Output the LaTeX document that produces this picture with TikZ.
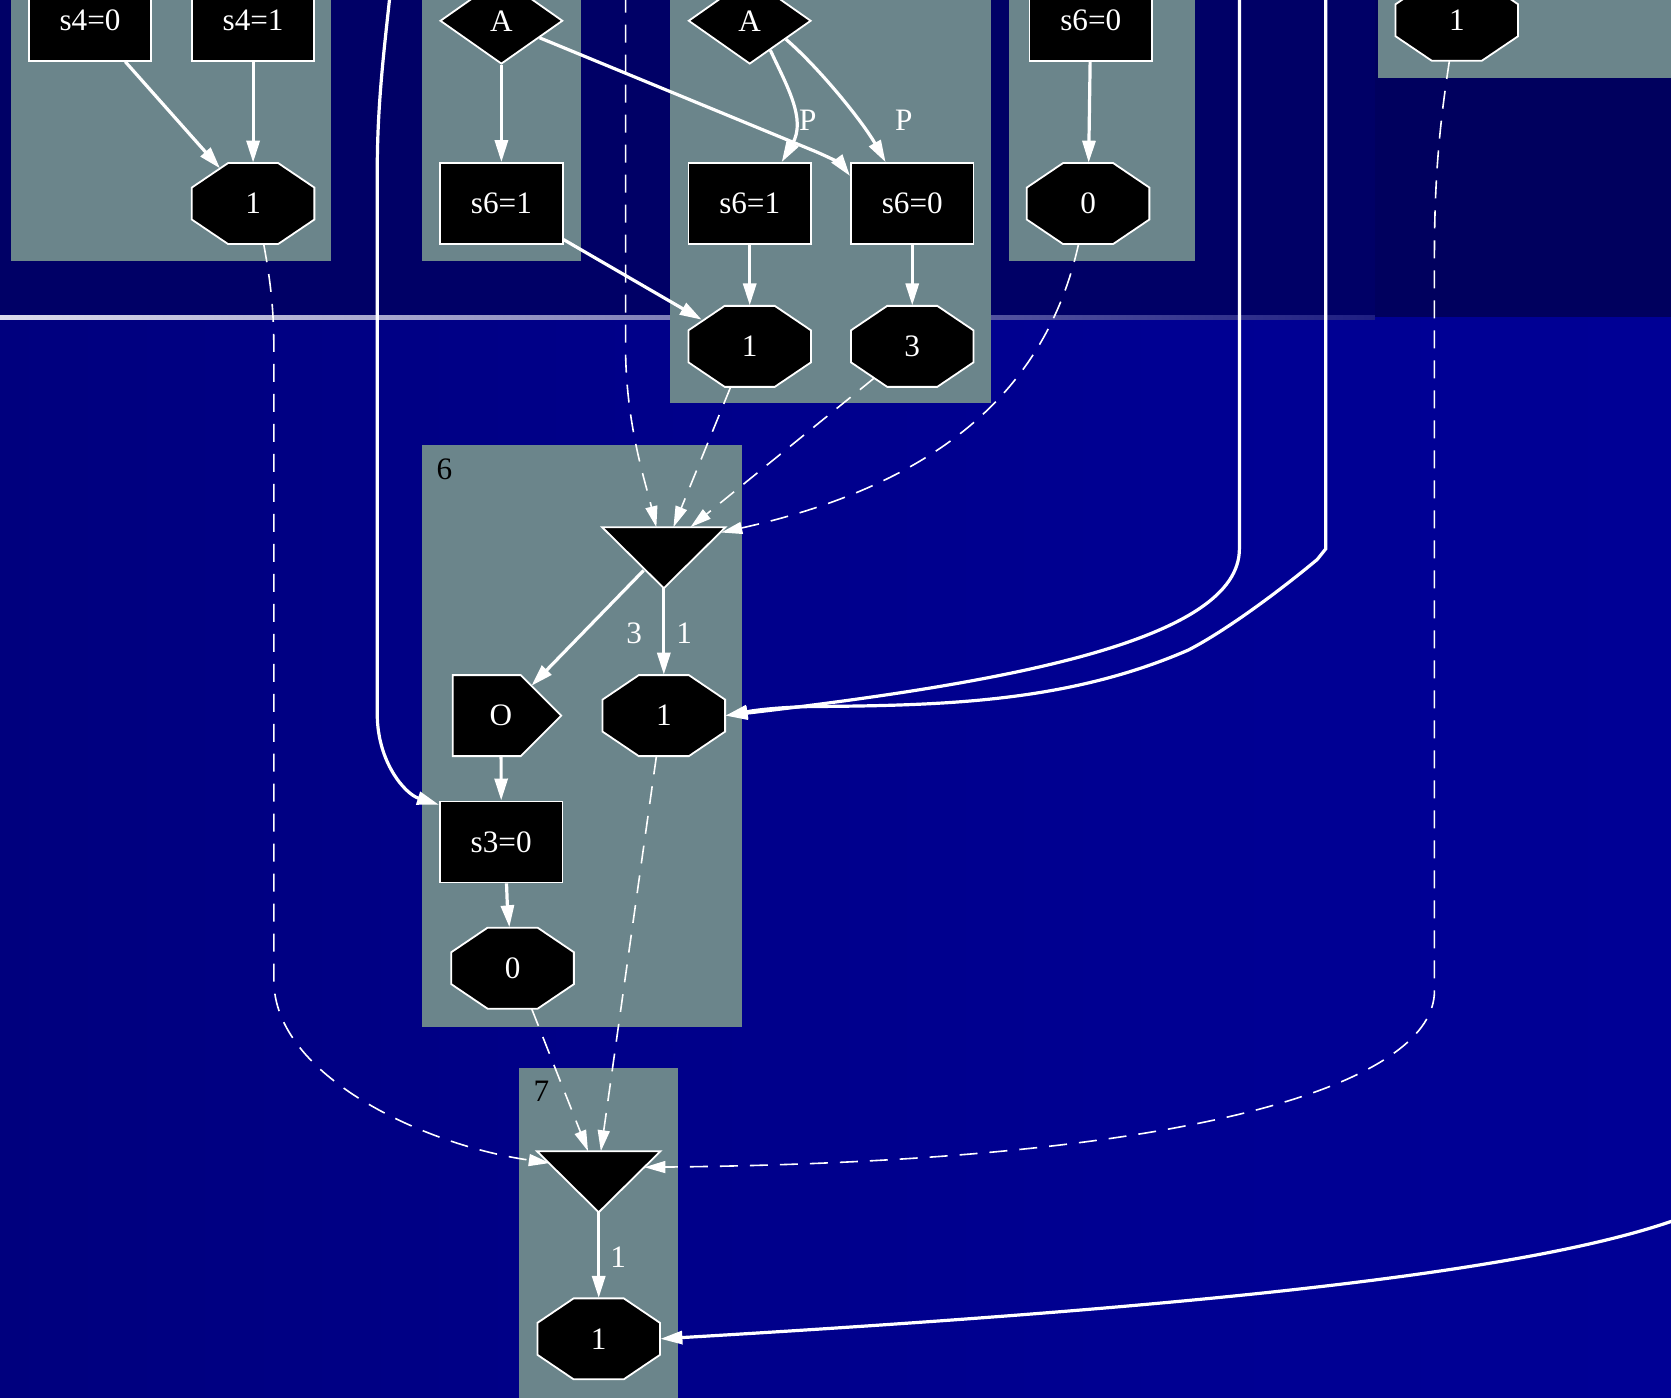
\documentclass[tikz,border=0pt]{standalone}
\usepackage{fontspec}
\setmainfont{Liberation Serif}
\usetikzlibrary{arrows.meta,calc,shapes.geometric,shapes.symbols}

\definecolor{bgtop}{RGB}{0,0,102}
\definecolor{bgtopdark}{RGB}{0,0,94}
\definecolor{bgleft}{RGB}{0,0,104}
\definecolor{bgquarter}{RGB}{0,0,126}
\definecolor{bgmid}{RGB}{0,0,146}
\definecolor{bgright}{RGB}{0,0,154}
\definecolor{clustergray}{RGB}{107,133,139}
\definecolor{seplight}{RGB}{220,220,236}
\definecolor{sepdark}{RGB}{30,30,130}
\pgfdeclarehorizontalshading{lowerbg}{100bp}{color(0bp)=(bgleft); color(25bp)=(bgquarter); color(60bp)=(bgmid); color(100bp)=(bgright)}

\newcommand{\joinnode}[2]{%
  \node[joinpt] (#1) at (#2) {};
  \filldraw[outline] (#1.north west) -- (#1.north east) -- (#1.south) -- cycle;}
\newcommand{\octnode}[3]{%
  \filldraw[outline] ($(#2)+(-23.5,-38)$) -- ++(47,0) -- ++(34,23) -- ++(0,30) -- ++(-34,23)
    -- ++(-47,0) -- ++(-34,-23) -- ++(0,-30) -- cycle;
  \node[octo] (#1) at (#2) {#3};}

\begin{document}
\begin{tikzpicture}[x=0.5329pt, y=-0.5329pt]
  \tikzset{every node/.style={font=\fontsize{15.6}{18}\selectfont},
    outline/.style={draw=white, fill=black, line width=0.9pt},
    gvnode/.style={outline, text=white, inner sep=0pt},
    box/.style={gvnode, rectangle, minimum width=61.3pt, minimum height=40.5pt},
    octo/.style={rectangle, text=white, inner sep=0pt, minimum width=61.3pt, minimum height=40.5pt},
    choice/.style={gvnode, diamond, minimum width=61.3pt, minimum height=43.2pt},
    outnode/.style={gvnode, signal, signal to=east, signal pointer angle=90,
      minimum width=54.2pt, minimum height=40.5pt},
    joinpt/.style={inner sep=0pt, minimum width=61.3pt, minimum height=30.1pt},
    flow/.style={draw=white, line width=1.6pt, -{Triangle[length=11pt,width=6.5pt]}},
    dep/.style={draw=white, line width=0.8pt, dash pattern=on 9pt off 6pt,
      -{Triangle[length=10.5pt,width=6pt]}},
    elabel/.style={text=white, inner sep=0pt},
    clabel/.style={text=black, inner sep=0pt}}

  \useasboundingbox (0,0) rectangle (1568,1311);
  \clip (0,0) rectangle (1568,1311);

  \fill[bgtop] (0,0) rectangle (1290,298);
  \fill[bgtopdark] (1290,0) rectangle (1568,300);
  \shade[shading=lowerbg] (0,298) rectangle (1568,1311);
  \shade[left color=seplight, right color=sepdark] (0,296) rectangle (1290,300);

  \fill[clustergray] (10,-5) rectangle (311,245);
  \fill[clustergray] (396,-5) rectangle (545,245);
  \fill[clustergray] (629,-5) rectangle (930,378);
  \fill[clustergray] (947,-5) rectangle (1121,245);
  \fill[clustergray] (1293,-5) rectangle (1575,73);
  \fill[clustergray] (396,418) rectangle (696,964);
  \fill[clustergray] (487,1002) rectangle (636,1320);
  \node[clabel] (lbl6) at (417,440) {6};
  \node[clabel] (lbl7) at (508,1024) {7};

  \node[box] (s40) at (84.5,19) {s4=0};
  \node[box] (s41) at (237.5,19) {s4=1};
  \octnode{o1a}{237.5,191}{1}
  \node[choice] (Aa) at (470.5,19.5) {A};
  \node[box] (s61a) at (470.5,191) {s6=1};
  \node[choice] (Ab) at (703.5,19.5) {A};
  \node[box] (s61b) at (703.5,191) {s6=1};
  \node[box] (s60b) at (856,191) {s6=0};
  \octnode{o1b}{703.5,325}{1}
  \octnode{o3}{856,325}{3}
  \node[box] (s60c) at (1023.5,19) {s6=0};
  \octnode{o0a}{1021,191}{0}
  \octnode{o1c}{1367,19}{1}
  \joinnode{tri6}{622.9,523.3}
  \node[outnode] (O) at (456.7,671.5) {\hspace*{14.2pt}O};
  \octnode{o1d}{622.9,671.5}{1}
  \node[box] (s30) at (470.3,790) {s3=0};
  \octnode{o0b}{481,908.5}{0}
  \joinnode{tri7}{561.8,1108.9}
  \octnode{o1e}{561.8,1256.3}{1}

  \coordinate (ltop) at (366,-5);
  \coordinate (dtop) at (587,-5);
  \coordinate (rtop1) at (1163,-5);
  \coordinate (rtop2) at (1244,-5);
  \coordinate (rside) at (1590,1138);

  \draw[flow] ($(s40.south)+(33,0)$) -- ($(o1a.center)+(-31,-33)$);
  \draw[flow] (s41) -- (o1a);
  \draw[flow] (Aa) -- (s61a);
  \draw[flow] (s61a) -- ($(o1b.center)+(-45,-25)$);
  \draw[flow] (Aa.-24) -- (760,140) .. controls (780,148) and (790,155) .. ($(s60b.north west)+(0,13)$);
  \draw[flow] (Ab.-55) .. controls (738,80) and (757,112) .. ($(s61b.north)+(30,0)$);
  \draw[flow] (Ab.-27) .. controls (770,65) and (810,115) .. ($(s60b.north)+(-25,0)$);
  \node[elabel] (lblP1) at (758,113) {P};
  \node[elabel] (lblP2) at (848,113) {P};
  \draw[flow] (s61b) -- (o1b);
  \draw[flow] (s60b) -- (o3);
  \draw[flow] (s60c) -- (o0a);
  \draw[flow] ($(tri6.center)+(-19,12)$) -- ($(O.center)+(42,-28)$);
  \draw[flow] (tri6.south) -- (o1d);
  \node[elabel] (lbl3) at (595,594) {3};
  \node[elabel] (lbl1a) at (642,594) {1};
  \draw[flow] ($(O.south)+(13.5,0)$) -- (s30.north);
  \draw[flow] ($(s30.south)+(5,0)$) .. controls (476,848) .. ($(o0b.north)+(-3,0)$);
  \draw[flow] (tri7.south) -- (o1e);
  \node[elabel] (lbl1b) at (580,1180) {1};

  \draw[dep] ($(o1a.south)+(10,0)$) .. controls (254,265) and (257,290) .. (257,330) -- (257,920)
    .. controls (257,1010) and (400,1075) .. ($(tri7.north west)+(12,11)$);
  \draw[dep] (dtop) -- (587,330) .. controls (588,400) and (605,450) .. ($(tri6.north)+(-7,0)$);
  \draw[dep] ($(o1b.south)+(-18,0)$) -- ($(tri6.north)+(9,0)$);
  \draw[dep] ($(o3.center)+(-36,30)$) -- ($(tri6.north)+(25,0)$);
  \draw[dep] ($(o0a.south)+(-9,0)$) .. controls (985,350) and (900,450) .. ($(tri6.north east)+(-4,5)$);
  \draw[dep] ($(o0b.south)+(18,0)$) -- ($(tri7.north)+(-10,0)$);
  \draw[dep] ($(o1d.south)+(-7,0)$) -- ($(tri7.north)+(2,0)$);
  \draw[dep] ($(o1c.south)+(-7,0)$) .. controls (1352,110) and (1346,160) .. (1346,240) -- (1346,930)
    .. controls (1346,1010) and (1150,1090) .. ($(tri7.north east)+(-15,15)$);

  \draw[flow] (ltop) .. controls (360,50) and (354,100) .. (354,160) -- (354,670)
    .. controls (354,715) and (380,745) .. ($(s30.north west)+(0,4)$);
  \draw[flow] (rtop1) -- (1163,515) .. controls (1163,600) and (950,640) .. (o1d.east);
  \draw[flow] (rtop2) -- (1244,515) -- (1236,525) .. controls (1200,555) and (1150,592) .. (1115,610)
    .. controls (1000,660) and (880,662) .. (760,663) .. controls (720,664) and (700,668) .. (o1d.east);
  \draw[flow] (rside) .. controls (1450,1195) and (1100,1228) .. (o1e.east);
\end{tikzpicture}
\end{document}
